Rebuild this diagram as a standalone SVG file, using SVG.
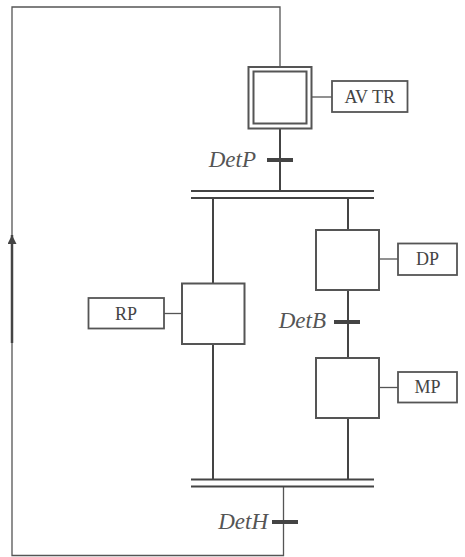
<svg xmlns="http://www.w3.org/2000/svg" width="465" height="557" viewBox="0 0 465 557">
<style>
.ln{stroke:#444;stroke-width:2;fill:none}
.thin{stroke:#555;stroke-width:1.3;fill:none}
.step{fill:#fff;stroke:#555;stroke-width:2}
.act{fill:#fff;stroke:#555;stroke-width:1.8}
.bar{stroke:#444;stroke-width:4}
.lbl{font-family:"Liberation Serif",serif;font-size:18px;fill:#444;text-anchor:middle}
.tr{font-family:"Liberation Serif",serif;font-size:23px;font-style:italic;fill:#555;text-anchor:end}
</style>
<defs>
<marker id="arr" markerWidth="9" markerHeight="9" refX="9" refY="4.5" orient="auto" markerUnits="userSpaceOnUse" viewBox="0 0 9 9">
<path d="M0,0 L9,4.5 L0,9 Z" fill="#444"/>
</marker>
</defs>
<rect width="465" height="557" fill="#fff"/>
<g id="connectors">
<path class="thin" d="M280,67 V7 H12 V555.5 H283.5 V487"/>
<line x1="12" y1="343" x2="12" y2="235" stroke="#444" stroke-width="2.5" marker-end="url(#arr)"/>
<line class="ln" x1="280" y1="128" x2="280" y2="191"/>
<line class="ln" x1="191" y1="191" x2="374" y2="191"/>
<line class="ln" x1="191" y1="198" x2="374" y2="198"/>
<line class="ln" x1="213" y1="198" x2="213" y2="283"/>
<line class="ln" x1="213" y1="344" x2="213" y2="479.5"/>
<line class="ln" x1="348" y1="198" x2="348" y2="230"/>
<line class="ln" x1="348" y1="290" x2="348" y2="358"/>
<line class="ln" x1="348" y1="418" x2="348" y2="479.5"/>
<line class="ln" x1="191" y1="479.5" x2="374" y2="479.5"/>
<line class="ln" x1="191" y1="486.5" x2="374" y2="486.5"/>
<line class="thin" x1="312" y1="97" x2="332" y2="97"/>
<line class="thin" x1="379" y1="259" x2="398" y2="259"/>
<line class="thin" x1="379" y1="387.5" x2="398" y2="387.5"/>
<line class="thin" x1="164" y1="313.5" x2="182" y2="313.5"/>
</g>
<g id="t-detp"><line class="bar" x1="267" y1="160" x2="293" y2="160"/><text class="tr" x="256" y="167">DetP</text></g>
<g id="t-detb"><line class="bar" x1="334" y1="322" x2="360" y2="322"/><text class="tr" x="326" y="328">DetB</text></g>
<g id="t-deth"><line class="bar" x1="272" y1="522" x2="298" y2="522"/><text class="tr" x="268" y="529">DetH</text></g>
<g id="step-init">
<rect class="step" x="248.5" y="67" width="63" height="61.5"/>
<rect class="step" x="253.5" y="71.5" width="53" height="52" stroke-width="1.8"/>
</g>
<g id="act-avtr"><rect class="act" x="332" y="81" width="75.5" height="31"/><text class="lbl" x="369.7" y="103">AV TR</text></g>
<g id="step-dp"><rect class="step" x="316" y="230" width="63" height="60"/></g>
<g id="act-dp"><rect class="act" x="398" y="243.5" width="59" height="31.5"/><text class="lbl" x="427.5" y="265">DP</text></g>
<g id="step-mp"><rect class="step" x="316" y="358" width="63" height="60"/></g>
<g id="act-mp"><rect class="act" x="398" y="372" width="59" height="30.5"/><text class="lbl" x="427.5" y="393">MP</text></g>
<g id="step-rp"><rect class="step" x="182" y="283.5" width="62.5" height="60.5"/></g>
<g id="act-rp"><rect class="act" x="88.5" y="298" width="75.5" height="30.5"/><text class="lbl" x="126" y="319.5">RP</text></g>
</svg>
